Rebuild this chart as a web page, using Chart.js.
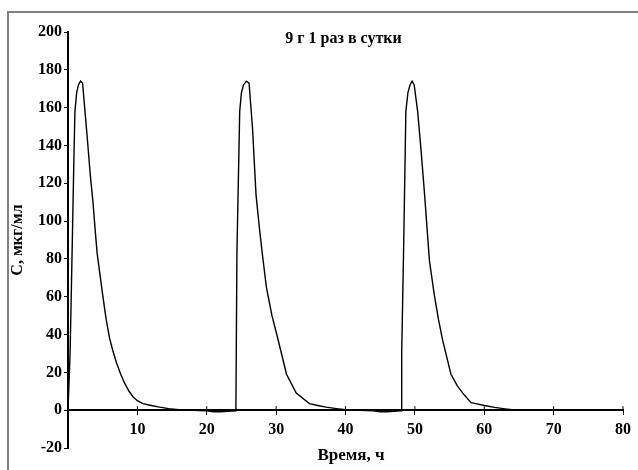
<!DOCTYPE html>
<html lang="ru">
<head>
<meta charset="UTF-8">
<title>9 г 1 раз в сутки</title>
<script src="https://cdn.jsdelivr.net/npm/chart.js@4.4.0/dist/chart.umd.min.js"></script>
<style>
  html, body { margin: 0; padding: 0; background: #fff; }
  .chart-container { position: relative; width: 638px; height: 470px; }
</style>
</head>
<body>
<div class="chart-container"><canvas id="concChart" width="638" height="470"></canvas></div>
<script>
// concentration curve (3 doses, every 24 h)
var chartTitle = '9 г 1 раз в сутки';
var xTitle = 'Время, ч';
var yTitle = 'C, мкг/мл';

var timeH = [
  0, 0.3, 0.62, 0.86, 1.0, 1.25, 1.5, 1.8, 2.1, 2.45, 2.8, 3.2, 3.6, 3.9, 4.2, 4.6, 5.0, 5.5, 6.0, 6.5,
  7.0, 7.6, 8.2, 8.8, 9.4, 10.0, 10.8, 12.0, 13.2, 14.5, 16.0, 18.0, 20.0, 21.0, 22.0, 23.0, 24.2,
  24.35, 24.75, 25.0, 25.3, 25.7, 26.1, 26.6, 27.1, 27.6, 28.0, 28.6, 29.4, 30.3, 31.5, 32.9, 34.8,
  36.0, 37.2, 38.7, 40.0, 42.0, 44.0, 45.0, 46.0, 47.0, 48.0,
  48.1, 48.4, 48.7, 49.0, 49.3, 49.6, 49.9, 50.4, 50.9, 51.4, 52.1, 52.8, 53.4, 54.0, 55.2, 56.1,
  56.9, 58.1, 58.8, 60.0, 61.5, 63.0, 64.0, 65.0
];
var concC = [
  0, 30, 89, 135, 158, 168, 172, 174, 173, 158, 143, 125, 110, 96, 83, 72, 61, 48, 38, 31,
  25, 19, 14, 10, 7, 5, 3.5, 2.5, 1.6, 0.8, 0.2, 0, -0.3, -0.8, -0.8, -0.6, -0.3,
  83, 158, 168, 172, 174, 173, 149, 114, 96, 83, 65, 50, 37, 19, 9, 3.5,
  2.5, 1.6, 0.8, 0.2, 0, -0.3, -0.8, -0.8, -0.6, -0.3,
  30, 90, 158, 168, 172, 174, 172, 158, 137, 114, 79, 61, 48, 37, 19, 13,
  9, 4, 3.5, 2.5, 1.5, 0.7, 0.2, 0
];

var xRange = [0, 80, 10];    // min, max, step
var yRange = [-20, 200, 20];

var points = timeH.map(function(t, i) { return { x: t, y: concC[i] }; });

var serif = "'Liberation Serif', 'Times New Roman', serif";

// frame lines, inner title, x axis title and tick crosses
var decor = {
  id: 'decor',
  afterDraw: function(chart) {
    var ctx = chart.ctx, area = chart.chartArea;
    var xs = chart.scales.x, ys = chart.scales.y;
    ctx.save();
    ctx.strokeStyle = '#808080';
    ctx.lineWidth = 2;
    ctx.beginPath();
    ctx.moveTo(8, 470);
    ctx.lineTo(8, 12);
    ctx.lineTo(638, 12);
    ctx.stroke();

    ctx.strokeStyle = '#000';
    ctx.lineWidth = 1;
    var y0 = ys.getPixelForValue(0);
    xs.ticks.forEach(function(t) {
      if (t.value === 0) return;
      var px = xs.getPixelForValue(t.value);
      ctx.beginPath();
      ctx.moveTo(px, y0 - 4);
      ctx.lineTo(px, y0);
      ctx.stroke();
    });

    ctx.fillStyle = '#000';
    ctx.textAlign = 'center';
    ctx.textBaseline = 'alphabetic';
    ctx.font = 'bold 16px ' + serif;
    ctx.fillText(chartTitle, (area.left + area.right) / 2 - 2, 43);
    ctx.font = 'bold 17px ' + serif;
    ctx.fillText(xTitle, 351, 460);
    ctx.restore();
  }
};

var ctx = document.getElementById('concChart').getContext('2d');
var concChart = new Chart(ctx, {
  type: 'scatter',
  data: {
    datasets: [{
      label: chartTitle,
      data: points,
      showLine: true,
      borderColor: '#000',
      borderWidth: 1.4,
      pointRadius: 0,
      tension: 0,
      fill: false
    }]
  },
  options: {
    responsive: false,
    animation: false,
    devicePixelRatio: 1,
    layout: { padding: { left: 8, top: 32, right: 15, bottom: 22 } },
    plugins: {
      legend: { display: false },
      tooltip: { enabled: false }
    },
    scales: {
      x: {
        type: 'linear',
        position: { y: 0 },
        min: xRange[0],
        max: xRange[1],
        afterFit: function(scale) { scale.height = 0; },
        ticks: {
          stepSize: xRange[2],
          color: '#000',
          padding: 6,
          maxRotation: 0,
          font: { family: serif, size: 16, weight: 'bold' },
          callback: function(v) { return v === 0 ? '' : v; }
        },
        grid: { drawOnChartArea: false, drawTicks: true, tickLength: 4, color: '#000' },
        border: { color: '#000', width: 2 }
      },
      y: {
        min: yRange[0],
        max: yRange[1],
        afterFit: function(scale) { scale.width = 60; },
        ticks: {
          stepSize: yRange[2],
          color: '#000',
          padding: 2,
          font: { family: serif, size: 16, weight: 'bold' }
        },
        grid: { drawOnChartArea: false, drawTicks: true, tickLength: 4, color: '#000' },
        border: { color: '#000', width: 2 },
        title: {
          display: true,
          text: yTitle,
          color: '#000',
          padding: { top: 0, bottom: 0 },
          font: { family: serif, size: 16, weight: 'bold' }
        }
      }
    }
  },
  plugins: [decor]
});
</script>
</body>
</html>
